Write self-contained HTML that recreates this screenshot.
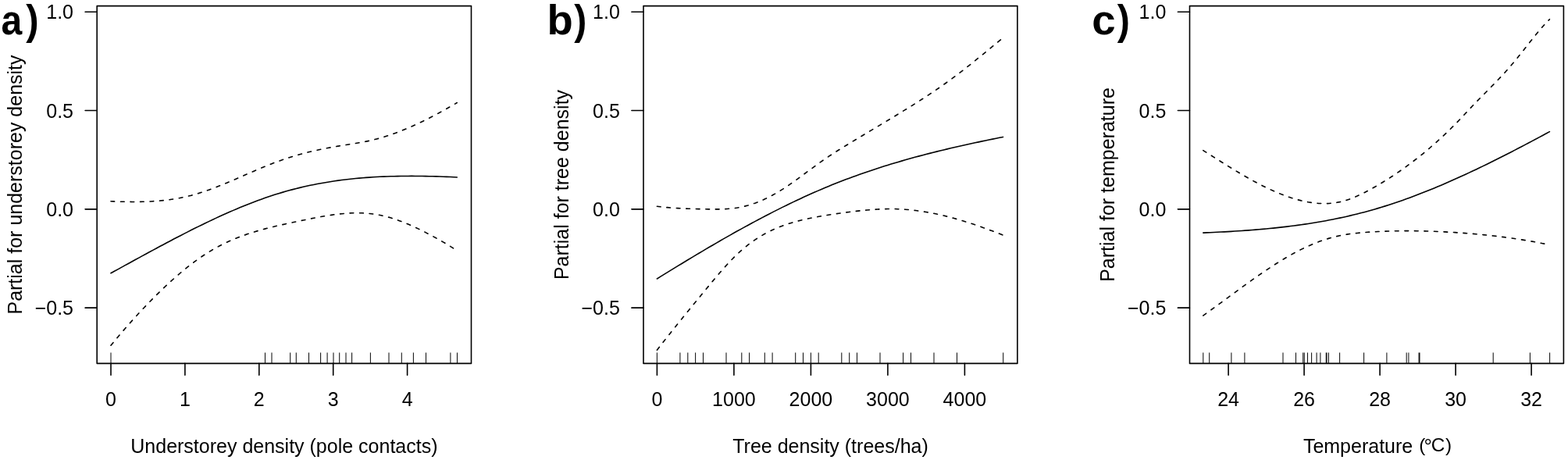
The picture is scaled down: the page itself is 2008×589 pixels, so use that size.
<!DOCTYPE html>
<html lang="en">
<head>
<meta charset="utf-8">
<title>Partial effects of understorey density, tree density and temperature</title>
<style>
html,body{margin:0;padding:0;background:#fff;}
body{width:2008px;height:589px;overflow:hidden;}
svg{display:block;}
text{font-family:"Liberation Sans",sans-serif;fill:#000;}
.t{font-size:25px;}
.pl{font-size:53.6px;font-weight:bold;}
.ax{stroke:#000;stroke-width:1.6;fill:none;stroke-linecap:round;stroke-linejoin:round;}
.rug{stroke:#111;stroke-width:1.05;fill:none;}
.fit{stroke:#000;stroke-width:1.6;fill:none;stroke-linejoin:round;stroke-linecap:round;}
.ci{stroke:#000;stroke-width:1.6;fill:none;stroke-dasharray:4.69 7.82;stroke-linejoin:round;stroke-linecap:round;}
</style>
</head>
<body>
<svg width="2008" height="589" viewBox="0 0 2008 589">
<rect x="0" y="0" width="2008" height="589" fill="#fff"/>

<g id="panel-a">
<text class="pl"><tspan x="1.56" y="44.4" textLength="26.76" lengthAdjust="spacingAndGlyphs">a</tspan><tspan x="33.35" y="44" textLength="16.42" lengthAdjust="spacingAndGlyphs">)</tspan></text>
<rect class="ax" x="124.2" y="7.6" width="479.3" height="457.8"/>
<path class="ax" d="M109.1,15.25H124.2M109.1,141.55H124.2M109.1,267.85H124.2M109.1,394.15H124.2"/>
<text class="t" text-anchor="end" x="94.0" y="24.2">1.0</text>
<text class="t" text-anchor="end" x="94.0" y="150.5">0.5</text>
<text class="t" text-anchor="end" x="94.0" y="276.8">0.0</text>
<text class="t" text-anchor="end" x="94.0" y="403.1">−0.5</text>
<path class="ax" d="M142.0,465.4V480.35M236.9,465.4V480.35M331.8,465.4V480.35M426.7,465.4V480.35M521.6,465.4V480.35"/>
<text class="t" text-anchor="middle" x="142.0" y="519.7">0</text>
<text class="t" text-anchor="middle" x="236.9" y="519.7">1</text>
<text class="t" text-anchor="middle" x="331.8" y="519.7">2</text>
<text class="t" text-anchor="middle" x="426.7" y="519.7">3</text>
<text class="t" text-anchor="middle" x="521.6" y="519.7">4</text>
<path class="rug" d="M142.0,451.4V465.4M339.5,451.4V465.4M348.0,451.4V465.4M371.7,451.4V465.4M379.3,451.4V465.4M395.5,451.4V465.4M410.6,451.4V465.4M419.1,451.4V465.4M427.0,451.4V465.4M434.7,451.4V465.4M443.0,451.4V465.4M450.6,451.4V465.4M474.4,451.4V465.4M498.0,451.4V465.4M514.3,451.4V465.4M529.4,451.4V465.4M545.5,451.4V465.4M576.9,451.4V465.4M585.5,451.4V465.4"/>
<path class="ci" d="M142.00,257.74 L146.48,257.92 L150.96,258.07 L155.43,258.21 L159.91,258.31 L164.39,258.39 L168.87,258.43 L173.34,258.43 L177.82,258.39 L182.30,258.31 L186.78,258.17 L191.26,257.98 L195.73,257.74 L200.21,257.43 L204.69,257.06 L209.17,256.62 L213.64,256.11 L218.12,255.52 L222.60,254.85 L227.08,254.09 L231.56,253.25 L236.03,252.32 L240.51,251.29 L244.99,250.17 L249.47,248.94 L253.94,247.62 L258.42,246.21 L262.90,244.71 L267.38,243.14 L271.86,241.50 L276.33,239.80 L280.81,238.05 L285.29,236.24 L289.77,234.39 L294.24,232.51 L298.72,230.60 L303.20,228.67 L307.68,226.73 L312.16,224.77 L316.63,222.82 L321.11,220.87 L325.59,218.93 L330.07,217.02 L334.54,215.12 L339.02,213.27 L343.50,211.45 L347.98,209.67 L352.46,207.95 L356.93,206.29 L361.41,204.70 L365.89,203.18 L370.37,201.72 L374.84,200.33 L379.32,199.01 L383.80,197.74 L388.28,196.53 L392.76,195.38 L397.23,194.28 L401.71,193.23 L406.19,192.23 L410.67,191.28 L415.14,190.37 L419.62,189.50 L424.10,188.67 L428.58,187.88 L433.06,187.12 L437.53,186.39 L442.01,185.68 L446.49,184.98 L450.97,184.28 L455.44,183.55 L459.92,182.79 L464.40,181.98 L468.88,181.10 L473.36,180.15 L477.83,179.11 L482.31,177.98 L486.79,176.75 L491.27,175.43 L495.74,174.03 L500.22,172.54 L504.70,170.96 L509.18,169.31 L513.66,167.58 L518.13,165.78 L522.61,163.90 L527.09,161.95 L531.57,159.94 L536.04,157.86 L540.52,155.73 L545.00,153.53 L549.48,151.27 L553.96,148.97 L558.43,146.61 L562.91,144.20 L567.39,141.75 L571.87,139.26 L576.34,136.72 L580.82,134.15 L585.30,131.54"/>
<path class="fit" d="M142.00,349.75 L146.48,347.29 L150.96,344.84 L155.43,342.38 L159.91,339.92 L164.39,337.47 L168.87,335.01 L173.34,332.56 L177.82,330.11 L182.30,327.67 L186.78,325.23 L191.26,322.80 L195.73,320.38 L200.21,317.97 L204.69,315.57 L209.17,313.17 L213.64,310.80 L218.12,308.43 L222.60,306.08 L227.08,303.74 L231.56,301.43 L236.03,299.13 L240.51,296.84 L244.99,294.58 L249.47,292.34 L253.94,290.12 L258.42,287.93 L262.90,285.76 L267.38,283.61 L271.86,281.49 L276.33,279.40 L280.81,277.33 L285.29,275.30 L289.77,273.29 L294.24,271.32 L298.72,269.38 L303.20,267.48 L307.68,265.61 L312.16,263.77 L316.63,261.98 L321.11,260.22 L325.59,258.50 L330.07,256.82 L334.54,255.19 L339.02,253.60 L343.50,252.06 L347.98,250.56 L352.46,249.11 L356.93,247.71 L361.41,246.36 L365.89,245.07 L370.37,243.82 L374.84,242.62 L379.32,241.47 L383.80,240.37 L388.28,239.31 L392.76,238.30 L397.23,237.34 L401.71,236.42 L406.19,235.54 L410.67,234.71 L415.14,233.92 L419.62,233.17 L424.10,232.46 L428.58,231.79 L433.06,231.16 L437.53,230.57 L442.01,230.02 L446.49,229.50 L450.97,229.01 L455.44,228.56 L459.92,228.15 L464.40,227.77 L468.88,227.42 L473.36,227.10 L477.83,226.81 L482.31,226.55 L486.79,226.32 L491.27,226.12 L495.74,225.95 L500.22,225.80 L504.70,225.68 L509.18,225.58 L513.66,225.51 L518.13,225.46 L522.61,225.43 L527.09,225.42 L531.57,225.44 L536.04,225.47 L540.52,225.53 L545.00,225.60 L549.48,225.69 L553.96,225.79 L558.43,225.92 L562.91,226.05 L567.39,226.20 L571.87,226.37 L576.34,226.54 L580.82,226.73 L585.30,226.93"/>
<path class="ci" d="M142.00,442.26 L146.48,436.83 L150.96,431.49 L155.43,426.22 L159.91,421.03 L164.39,415.92 L168.87,410.89 L173.34,405.94 L177.82,401.06 L182.30,396.27 L186.78,391.55 L191.26,386.91 L195.73,382.34 L200.21,377.86 L204.69,373.45 L209.17,369.14 L213.64,364.91 L218.12,360.78 L222.60,356.75 L227.08,352.82 L231.56,348.99 L236.03,345.28 L240.51,341.68 L244.99,338.20 L249.47,334.84 L253.94,331.60 L258.42,328.50 L262.90,325.53 L267.38,322.69 L271.86,320.00 L276.33,317.45 L280.81,315.04 L285.29,312.75 L289.77,310.58 L294.24,308.53 L298.72,306.59 L303.20,304.76 L307.68,303.02 L312.16,301.38 L316.63,299.82 L321.11,298.34 L325.59,296.94 L330.07,295.61 L334.54,294.33 L339.02,293.12 L343.50,291.95 L347.98,290.83 L352.46,289.75 L356.93,288.71 L361.41,287.69 L365.89,286.70 L370.37,285.73 L374.84,284.78 L379.32,283.84 L383.80,282.91 L388.28,281.98 L392.76,281.05 L397.23,280.14 L401.71,279.25 L406.19,278.38 L410.67,277.55 L415.14,276.76 L419.62,276.02 L424.10,275.34 L428.58,274.72 L433.06,274.16 L437.53,273.69 L442.01,273.29 L446.49,272.99 L450.97,272.78 L455.44,272.68 L459.92,272.69 L464.40,272.82 L468.88,273.07 L473.36,273.46 L477.83,273.98 L482.31,274.66 L486.79,275.48 L491.27,276.46 L495.74,277.58 L500.22,278.85 L504.70,280.24 L509.18,281.76 L513.66,283.41 L518.13,285.16 L522.61,287.01 L527.09,288.97 L531.57,291.01 L536.04,293.14 L540.52,295.35 L545.00,297.63 L549.48,299.97 L553.96,302.36 L558.43,304.81 L562.91,307.30 L567.39,309.85 L571.87,312.48 L576.34,315.21 L580.82,318.07 L585.30,321.07"/>
<text class="t" text-anchor="middle" x="363.9" y="580.3">Understorey density (pole contacts)</text>
<text class="t" text-anchor="middle" transform="translate(27.7,236.5) rotate(-90)">Partial for understorey density</text>
</g>
<g id="panel-b">
<text class="pl"><tspan x="700.46" y="44.4" textLength="33.26" lengthAdjust="spacingAndGlyphs">b</tspan><tspan x="735.36" y="44" textLength="16.06" lengthAdjust="spacingAndGlyphs">)</tspan></text>
<rect class="ax" x="824.0" y="7.6" width="478.9" height="457.8"/>
<path class="ax" d="M808.9,15.25H824.0M808.9,141.55H824.0M808.9,267.85H824.0M808.9,394.15H824.0"/>
<text class="t" text-anchor="end" x="793.8" y="24.2">1.0</text>
<text class="t" text-anchor="end" x="793.8" y="150.5">0.5</text>
<text class="t" text-anchor="end" x="793.8" y="276.8">0.0</text>
<text class="t" text-anchor="end" x="793.8" y="403.1">−0.5</text>
<path class="ax" d="M841.4,465.4V480.35M939.9,465.4V480.35M1038.4,465.4V480.35M1136.9,465.4V480.35M1235.4,465.4V480.35"/>
<text class="t" text-anchor="middle" x="841.4" y="519.7">0</text>
<text class="t" text-anchor="middle" x="939.9" y="519.7">1000</text>
<text class="t" text-anchor="middle" x="1038.4" y="519.7">2000</text>
<text class="t" text-anchor="middle" x="1136.9" y="519.7">3000</text>
<text class="t" text-anchor="middle" x="1235.4" y="519.7">4000</text>
<path class="rug" d="M841.4,451.4V465.4M870.9,451.4V465.4M880.8,451.4V465.4M890.6,451.4V465.4M900.5,451.4V465.4M930.0,451.4V465.4M949.8,451.4V465.4M959.6,451.4V465.4M979.3,451.4V465.4M989.1,451.4V465.4M1018.7,451.4V465.4M1028.5,451.4V465.4M1038.4,451.4V465.4M1048.2,451.4V465.4M1077.8,451.4V465.4M1087.7,451.4V465.4M1097.5,451.4V465.4M1127.0,451.4V465.4M1156.6,451.4V465.4M1166.5,451.4V465.4M1196.0,451.4V465.4M1225.5,451.4V465.4M1284.7,451.4V465.4"/>
<path class="ci" d="M841.40,264.30 L845.88,264.80 L850.35,265.26 L854.83,265.67 L859.30,266.03 L863.78,266.35 L868.25,266.63 L872.73,266.87 L877.20,267.08 L881.68,267.26 L886.15,267.41 L890.63,267.54 L895.10,267.65 L899.58,267.74 L904.05,267.81 L908.53,267.87 L913.00,267.92 L917.48,267.92 L921.95,267.87 L926.43,267.75 L930.91,267.52 L935.38,267.17 L939.86,266.68 L944.33,266.04 L948.81,265.21 L953.28,264.20 L957.76,263.02 L962.23,261.67 L966.71,260.14 L971.18,258.45 L975.66,256.59 L980.13,254.57 L984.61,252.40 L989.08,250.06 L993.56,247.58 L998.03,244.95 L1002.51,242.17 L1006.98,239.25 L1011.46,236.20 L1015.93,233.04 L1020.41,229.81 L1024.89,226.54 L1029.36,223.24 L1033.84,219.93 L1038.31,216.62 L1042.79,213.33 L1047.26,210.08 L1051.74,206.88 L1056.21,203.75 L1060.69,200.69 L1065.16,197.73 L1069.64,194.85 L1074.11,192.03 L1078.59,189.25 L1083.06,186.52 L1087.54,183.80 L1092.01,181.09 L1096.49,178.39 L1100.96,175.70 L1105.44,173.02 L1109.92,170.34 L1114.39,167.67 L1118.87,164.99 L1123.34,162.31 L1127.82,159.63 L1132.29,156.95 L1136.77,154.25 L1141.24,151.55 L1145.72,148.84 L1150.19,146.12 L1154.67,143.38 L1159.14,140.63 L1163.62,137.85 L1168.09,135.06 L1172.57,132.24 L1177.04,129.40 L1181.52,126.52 L1185.99,123.61 L1190.47,120.66 L1194.94,117.67 L1199.42,114.63 L1203.90,111.55 L1208.37,108.42 L1212.85,105.23 L1217.32,101.98 L1221.80,98.67 L1226.27,95.30 L1230.75,91.88 L1235.22,88.40 L1239.70,84.88 L1244.17,81.32 L1248.65,77.73 L1253.12,74.11 L1257.60,70.47 L1262.07,66.81 L1266.55,63.14 L1271.02,59.47 L1275.50,55.80 L1279.97,52.14 L1284.45,48.50"/>
<path class="fit" d="M841.40,356.95 L845.88,354.18 L850.35,351.41 L854.83,348.65 L859.30,345.90 L863.78,343.15 L868.25,340.42 L872.73,337.70 L877.20,334.98 L881.68,332.28 L886.15,329.58 L890.63,326.90 L895.10,324.23 L899.58,321.58 L904.05,318.93 L908.53,316.30 L913.00,313.69 L917.48,311.09 L921.95,308.50 L926.43,305.93 L930.91,303.38 L935.38,300.84 L939.86,298.32 L944.33,295.82 L948.81,293.34 L953.28,290.87 L957.76,288.43 L962.23,286.00 L966.71,283.60 L971.18,281.21 L975.66,278.85 L980.13,276.51 L984.61,274.19 L989.08,271.89 L993.56,269.62 L998.03,267.37 L1002.51,265.15 L1006.98,262.95 L1011.46,260.77 L1015.93,258.62 L1020.41,256.50 L1024.89,254.41 L1029.36,252.34 L1033.84,250.30 L1038.31,248.29 L1042.79,246.31 L1047.26,244.36 L1051.74,242.44 L1056.21,240.54 L1060.69,238.68 L1065.16,236.85 L1069.64,235.06 L1074.11,233.29 L1078.59,231.55 L1083.06,229.84 L1087.54,228.16 L1092.01,226.51 L1096.49,224.89 L1100.96,223.29 L1105.44,221.72 L1109.92,220.18 L1114.39,218.66 L1118.87,217.17 L1123.34,215.71 L1127.82,214.27 L1132.29,212.85 L1136.77,211.46 L1141.24,210.08 L1145.72,208.74 L1150.19,207.41 L1154.67,206.11 L1159.14,204.82 L1163.62,203.56 L1168.09,202.32 L1172.57,201.09 L1177.04,199.89 L1181.52,198.70 L1185.99,197.53 L1190.47,196.38 L1194.94,195.25 L1199.42,194.13 L1203.90,193.03 L1208.37,191.95 L1212.85,190.88 L1217.32,189.82 L1221.80,188.78 L1226.27,187.75 L1230.75,186.74 L1235.22,185.74 L1239.70,184.75 L1244.17,183.77 L1248.65,182.80 L1253.12,181.85 L1257.60,180.90 L1262.07,179.96 L1266.55,179.04 L1271.02,178.12 L1275.50,177.21 L1279.97,176.30 L1284.45,175.41"/>
<path class="ci" d="M841.40,448.16 L845.88,442.42 L850.35,436.72 L854.83,431.05 L859.30,425.42 L863.78,419.82 L868.25,414.25 L872.73,408.71 L877.20,403.19 L881.68,397.70 L886.15,392.22 L890.63,386.75 L895.10,381.31 L899.58,375.87 L904.05,370.44 L908.53,365.02 L913.00,359.63 L917.48,354.30 L921.95,349.06 L926.43,343.94 L930.91,338.96 L935.38,334.16 L939.86,329.57 L944.33,325.21 L948.81,321.11 L953.28,317.27 L957.76,313.67 L962.23,310.31 L966.71,307.17 L971.18,304.25 L975.66,301.53 L980.13,299.00 L984.61,296.66 L989.08,294.50 L993.56,292.49 L998.03,290.64 L1002.51,288.94 L1006.98,287.36 L1011.46,285.92 L1015.93,284.58 L1020.41,283.34 L1024.89,282.20 L1029.36,281.14 L1033.84,280.16 L1038.31,279.23 L1042.79,278.36 L1047.26,277.52 L1051.74,276.73 L1056.21,275.97 L1060.69,275.24 L1065.16,274.54 L1069.64,273.87 L1074.11,273.23 L1078.59,272.61 L1083.06,272.02 L1087.54,271.44 L1092.01,270.89 L1096.49,270.36 L1100.96,269.86 L1105.44,269.40 L1109.92,268.98 L1114.39,268.60 L1118.87,268.27 L1123.34,267.99 L1127.82,267.77 L1132.29,267.61 L1136.77,267.52 L1141.24,267.50 L1145.72,267.55 L1150.19,267.69 L1154.67,267.90 L1159.14,268.20 L1163.62,268.57 L1168.09,269.01 L1172.57,269.53 L1177.04,270.12 L1181.52,270.78 L1185.99,271.50 L1190.47,272.29 L1194.94,273.15 L1199.42,274.07 L1203.90,275.05 L1208.37,276.09 L1212.85,277.19 L1217.32,278.34 L1221.80,279.55 L1226.27,280.81 L1230.75,282.12 L1235.22,283.47 L1239.70,284.88 L1244.17,286.33 L1248.65,287.82 L1253.12,289.35 L1257.60,290.93 L1262.07,292.54 L1266.55,294.19 L1271.02,295.87 L1275.50,297.59 L1279.97,299.33 L1284.45,301.11"/>
<text class="t" text-anchor="middle" x="1063.5" y="580.3">Tree density (trees/ha)</text>
<text class="t" text-anchor="middle" transform="translate(727.5,236.5) rotate(-90)">Partial for tree density</text>
</g>
<g id="panel-c">
<text class="pl"><tspan x="1398.3" y="44.4" textLength="30.39" lengthAdjust="spacingAndGlyphs">c</tspan><tspan x="1430.76" y="44" textLength="16.17" lengthAdjust="spacingAndGlyphs">)</tspan></text>
<rect class="ax" x="1523.5" y="7.6" width="478.9" height="457.8"/>
<path class="ax" d="M1508.4,15.25H1523.5M1508.4,141.55H1523.5M1508.4,267.85H1523.5M1508.4,394.15H1523.5"/>
<text class="t" text-anchor="end" x="1493.3" y="24.2">1.0</text>
<text class="t" text-anchor="end" x="1493.3" y="150.5">0.5</text>
<text class="t" text-anchor="end" x="1493.3" y="276.8">0.0</text>
<text class="t" text-anchor="end" x="1493.3" y="403.1">−0.5</text>
<path class="ax" d="M1573.1,465.4V480.35M1670.1,465.4V480.35M1767.1,465.4V480.35M1864.1,465.4V480.35M1961.1,465.4V480.35"/>
<text class="t" text-anchor="middle" x="1573.1" y="519.7">24</text>
<text class="t" text-anchor="middle" x="1670.1" y="519.7">26</text>
<text class="t" text-anchor="middle" x="1767.1" y="519.7">28</text>
<text class="t" text-anchor="middle" x="1864.1" y="519.7">30</text>
<text class="t" text-anchor="middle" x="1961.1" y="519.7">32</text>
<path class="rug" d="M1540.8,451.4V465.4M1548.7,451.4V465.4M1576.9,451.4V465.4M1593.9,451.4V465.4M1643.0,451.4V465.4M1659.5,451.4V465.4M1668.7,451.4V465.4M1670.3,451.4V465.4M1674.5,451.4V465.4M1679.6,451.4V465.4M1686.1,451.4V465.4M1690.9,451.4V465.4M1698.3,451.4V465.4M1699.0,451.4V465.4M1701.4,451.4V465.4M1715.6,451.4V465.4M1746.6,451.4V465.4M1775.9,451.4V465.4M1801.2,451.4V465.4M1803.9,451.4V465.4M1817.1,451.4V465.4M1818.0,451.4V465.4M1912.2,451.4V465.4M1959.4,451.4V465.4M1984.6,451.4V465.4"/>
<path class="ci" d="M1540.80,192.58 L1545.28,195.42 L1549.76,198.26 L1554.24,201.10 L1558.72,203.93 L1563.20,206.76 L1567.68,209.56 L1572.17,212.35 L1576.65,215.11 L1581.13,217.84 L1585.61,220.54 L1590.09,223.19 L1594.57,225.79 L1599.05,228.35 L1603.53,230.84 L1608.01,233.28 L1612.49,235.64 L1616.97,237.94 L1621.45,240.15 L1625.94,242.28 L1630.42,244.33 L1634.90,246.28 L1639.38,248.13 L1643.86,249.87 L1648.34,251.51 L1652.82,253.04 L1657.30,254.44 L1661.78,255.72 L1666.26,256.87 L1670.74,257.89 L1675.22,258.76 L1679.71,259.48 L1684.19,260.04 L1688.67,260.43 L1693.15,260.64 L1697.63,260.66 L1702.11,260.48 L1706.59,260.09 L1711.07,259.49 L1715.55,258.65 L1720.03,257.58 L1724.51,256.26 L1728.99,254.73 L1733.47,252.99 L1737.96,251.07 L1742.44,249.00 L1746.92,246.78 L1751.40,244.44 L1755.88,242.01 L1760.36,239.49 L1764.84,236.90 L1769.32,234.24 L1773.80,231.49 L1778.28,228.67 L1782.76,225.77 L1787.24,222.79 L1791.73,219.73 L1796.21,216.60 L1800.69,213.38 L1805.17,210.07 L1809.65,206.69 L1814.13,203.22 L1818.61,199.67 L1823.09,196.03 L1827.57,192.31 L1832.05,188.50 L1836.53,184.60 L1841.01,180.62 L1845.49,176.54 L1849.98,172.36 L1854.46,168.08 L1858.94,163.69 L1863.42,159.20 L1867.90,154.59 L1872.38,149.86 L1876.86,145.05 L1881.34,140.24 L1885.82,135.50 L1890.30,130.85 L1894.78,126.27 L1899.26,121.73 L1903.75,117.21 L1908.23,112.67 L1912.71,108.10 L1917.19,103.47 L1921.67,98.76 L1926.15,93.93 L1930.63,88.97 L1935.11,83.84 L1939.59,78.53 L1944.07,73.05 L1948.55,67.43 L1953.03,61.75 L1957.52,56.05 L1962.00,50.39 L1966.48,44.84 L1970.96,39.43 L1975.44,34.24 L1979.92,29.31 L1984.40,24.71"/>
<path class="fit" d="M1540.80,298.09 L1545.28,297.90 L1549.76,297.70 L1554.24,297.50 L1558.72,297.29 L1563.20,297.06 L1567.68,296.83 L1572.17,296.58 L1576.65,296.33 L1581.13,296.06 L1585.61,295.77 L1590.09,295.48 L1594.57,295.17 L1599.05,294.84 L1603.53,294.50 L1608.01,294.15 L1612.49,293.77 L1616.97,293.38 L1621.45,292.98 L1625.94,292.55 L1630.42,292.10 L1634.90,291.64 L1639.38,291.15 L1643.86,290.64 L1648.34,290.11 L1652.82,289.56 L1657.30,288.99 L1661.78,288.39 L1666.26,287.77 L1670.74,287.12 L1675.22,286.44 L1679.71,285.74 L1684.19,285.02 L1688.67,284.26 L1693.15,283.48 L1697.63,282.67 L1702.11,281.83 L1706.59,280.96 L1711.07,280.06 L1715.55,279.12 L1720.03,278.16 L1724.51,277.16 L1728.99,276.13 L1733.47,275.07 L1737.96,273.97 L1742.44,272.84 L1746.92,271.67 L1751.40,270.46 L1755.88,269.22 L1760.36,267.94 L1764.84,266.62 L1769.32,265.26 L1773.80,263.87 L1778.28,262.45 L1782.76,260.98 L1787.24,259.49 L1791.73,257.95 L1796.21,256.39 L1800.69,254.79 L1805.17,253.16 L1809.65,251.50 L1814.13,249.81 L1818.61,248.09 L1823.09,246.34 L1827.57,244.56 L1832.05,242.75 L1836.53,240.91 L1841.01,239.05 L1845.49,237.15 L1849.98,235.24 L1854.46,233.29 L1858.94,231.33 L1863.42,229.34 L1867.90,227.32 L1872.38,225.28 L1876.86,223.22 L1881.34,221.14 L1885.82,219.04 L1890.30,216.91 L1894.78,214.77 L1899.26,212.61 L1903.75,210.43 L1908.23,208.23 L1912.71,206.01 L1917.19,203.77 L1921.67,201.52 L1926.15,199.26 L1930.63,196.98 L1935.11,194.68 L1939.59,192.37 L1944.07,190.05 L1948.55,187.71 L1953.03,185.37 L1957.52,183.01 L1962.00,180.64 L1966.48,178.26 L1970.96,175.87 L1975.44,173.47 L1979.92,171.07 L1984.40,168.65"/>
<path class="ci" d="M1540.80,404.04 L1545.28,400.86 L1549.76,397.64 L1554.24,394.40 L1558.72,391.14 L1563.20,387.86 L1567.68,384.57 L1572.17,381.28 L1576.65,377.98 L1581.13,374.69 L1585.61,371.40 L1590.09,368.13 L1594.57,364.88 L1599.05,361.65 L1603.53,358.45 L1608.01,355.29 L1612.49,352.16 L1616.97,349.07 L1621.45,346.03 L1625.94,343.05 L1630.42,340.12 L1634.90,337.26 L1639.38,334.46 L1643.86,331.74 L1648.34,329.10 L1652.82,326.53 L1657.30,324.06 L1661.78,321.68 L1666.26,319.39 L1670.74,317.21 L1675.22,315.13 L1679.71,313.17 L1684.19,311.32 L1688.67,309.59 L1693.15,307.98 L1697.63,306.50 L1702.11,305.13 L1706.59,303.88 L1711.07,302.77 L1715.55,301.77 L1720.03,300.90 L1724.51,300.15 L1728.99,299.49 L1733.47,298.92 L1737.96,298.43 L1742.44,298.01 L1746.92,297.64 L1751.40,297.31 L1755.88,297.01 L1760.36,296.75 L1764.84,296.51 L1769.32,296.30 L1773.80,296.12 L1778.28,295.97 L1782.76,295.85 L1787.24,295.75 L1791.73,295.68 L1796.21,295.63 L1800.69,295.61 L1805.17,295.61 L1809.65,295.64 L1814.13,295.69 L1818.61,295.76 L1823.09,295.86 L1827.57,295.98 L1832.05,296.12 L1836.53,296.28 L1841.01,296.46 L1845.49,296.67 L1849.98,296.89 L1854.46,297.13 L1858.94,297.39 L1863.42,297.67 L1867.90,297.97 L1872.38,298.28 L1876.86,298.62 L1881.34,298.97 L1885.82,299.34 L1890.30,299.74 L1894.78,300.15 L1899.26,300.58 L1903.75,301.04 L1908.23,301.52 L1912.71,302.02 L1917.19,302.54 L1921.67,303.09 L1926.15,303.66 L1930.63,304.26 L1935.11,304.88 L1939.59,305.53 L1944.07,306.20 L1948.55,306.90 L1953.03,307.63 L1957.52,308.38 L1962.00,309.16 L1966.48,309.97 L1970.96,310.81 L1975.44,311.68 L1979.92,312.58 L1984.40,313.51"/>
<text class="t" x="1668.9" y="580.2">Temperature <tspan x="1817.35" y="577.6" font-size="24.3">(</tspan><tspan x="1823.55" y="580.35" font-size="26">°</tspan><tspan x="1832.8" y="577.6" font-size="24.3">C</tspan><tspan x="1851.05" y="577.6" font-size="24.3">)</tspan></text>
<text class="t" text-anchor="middle" transform="translate(1427.0,236.5) rotate(-90)">Partial for temperature</text>
</g>
</svg>
</body>
</html>
